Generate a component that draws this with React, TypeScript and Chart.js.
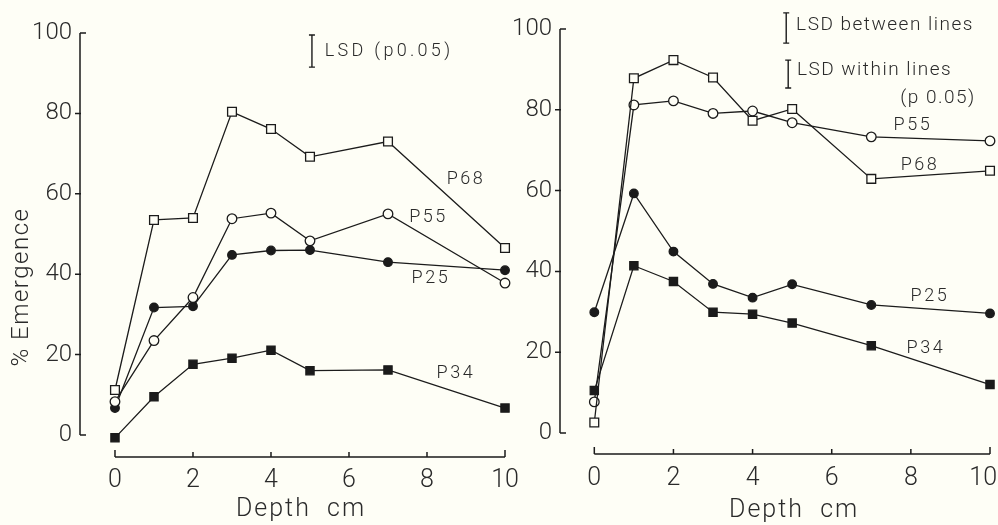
import React, { useEffect, useRef } from 'react';
import { Chart, registerables } from 'chart.js';

Chart.register(...registerables);

// ---------- data ----------
const depths = [0, 1, 2, 3, 4, 5, 7, 10];
const xTickValues = [0, 2, 4, 6, 8, 10];
const yTickValues = [0, 20, 40, 60, 80, 100];

const leftP68 = [11.2, 53.5, 54, 80.4, 76.1, 69.2, 73, 46.5];
const leftP55 = [8.3, 23.5, 34.2, 53.8, 55.2, 48.3, 55, 37.8];
const leftP25 = [6.7, 31.7, 32, 44.8, 45.9, 46, 43, 41];
const leftP34 = [-0.7, 9.5, 17.6, 19.1, 21.1, 16, 16.2, 6.7];

const rightP68 = [2.6, 87.8, 92.3, 88, 77.3, 80.2, 62.9, 64.9];
const rightP55 = [7.7, 81.2, 82.2, 79.1, 79.7, 76.8, 73.3, 72.3];
const rightP25 = [29.9, 59.3, 44.9, 36.9, 33.5, 36.8, 31.7, 29.6];
const rightP34 = [10.5, 41.4, 37.5, 29.9, 29.4, 27.2, 21.6, 12];

const seriesNames = ['P68', 'P55', 'P25', 'P34'];

// label anchors (data coordinates)
const leftLabelX = [9.0, 8.04, 8.1, 8.74];
const leftLabelY = [63.6, 54, 39, 15.2];
const rightLabelX = [8.23, 8.05, 8.48, 8.38];
const rightLabelY = [66.3, 76, 33.7, 21];

const leftLsdTexts = ['LSD (p0.05)'];
const rightLsdTexts = ['LSD between lines', 'LSD within lines', '(p 0.05)'];

const yTitle = '% Emergence';
const xTitle = 'Depth  cm';

// ---------- style ----------
const BG = '#fefef6';
const INK = '#1b1b1b';
const TEXT_INK = '#2a2a2a';
const FAMILY = 'Roboto, "DejaVu Sans", sans-serif';

type Marker = { style: 'rect' | 'circle'; filled: boolean; radius: number };
const markers: Marker[] = [
  { style: 'rect', filled: false, radius: 6.2 },
  { style: 'circle', filled: false, radius: 4.8 },
  { style: 'circle', filled: true, radius: 4.3 },
  { style: 'rect', filled: true, radius: 5.8 },
];

type Panel = {
  values: number[][];
  labelX: number[];
  labelY: number[];
  xMin: number;
  yMin: number;
  padTop: number;
  padRight: number;
  yWidth: number;
  xHeight: number;
  xTickBaseline: number;
  showYTitle: boolean;
  titleX: number;
  titleOffset: number;
  drawLsd: (ctx: CanvasRenderingContext2D, px: (v: number) => number, py: (v: number) => number) => void;
};

function drawBar(ctx: CanvasRenderingContext2D, x: number, y1: number, y2: number) {
  ctx.beginPath();
  ctx.moveTo(x, y1);
  ctx.lineTo(x, y2);
  ctx.moveTo(x - 3, y1);
  ctx.lineTo(x + 3, y1);
  ctx.moveTo(x - 3, y2);
  ctx.lineTo(x + 3, y2);
  ctx.stroke();
}

function text(
  ctx: CanvasRenderingContext2D,
  s: string,
  x: number,
  y: number,
  size: number,
  spacing: number,
  align: CanvasTextAlign,
  baseline: CanvasTextBaseline = 'middle'
) {
  ctx.font = `300 ${size}px ${FAMILY}`;
  (ctx as any).letterSpacing = `${spacing}px`;
  ctx.textAlign = align;
  ctx.textBaseline = baseline;
  ctx.fillStyle = TEXT_INK;
  ctx.fillText(s, x, y);
}

const leftPanel: Panel = {
  values: [leftP68, leftP55, leftP25, leftP34],
  labelX: leftLabelX,
  labelY: leftLabelY,
  xMin: -0.897,
  yMin: -5.47,
  padTop: 33,
  padRight: 25,
  yWidth: 80,
  xHeight: 68,
  xTickBaseline: 30,
  showYTitle: true,
  titleX: 4.77,
  titleOffset: 53,
  drawLsd: (ctx, px, py) => {
    drawBar(ctx, px(5.05), py(99.5), py(91.5));
    text(ctx, leftLsdTexts[0], px(5.38), py(95.5), 18, 3.3, 'left');
  },
};

const rightPanel: Panel = {
  values: [rightP68, rightP55, rightP25, rightP34],
  labelX: rightLabelX,
  labelY: rightLabelY,
  xMin: -0.867,
  yMin: -5.2,
  padTop: 29,
  padRight: 8,
  yWidth: 60,
  xHeight: 71,
  xTickBaseline: 31,
  showYTitle: false,
  titleX: 5.05,
  titleOffset: 57,
  drawLsd: (ctx, px, py) => {
    drawBar(ctx, px(4.85), py(104), py(96.5));
    text(ctx, rightLsdTexts[0], px(5.1), py(101), 19, 1.5, 'left');
    drawBar(ctx, px(4.9), py(92.3), py(85.4));
    text(ctx, rightLsdTexts[1], px(5.12), py(89.9), 19, 1.5, 'left');
    text(ctx, rightLsdTexts[2], px(7.73), py(82.9), 19, 1.5, 'left');
  },
};

function makeChart(canvas: HTMLCanvasElement, p: Panel) {
  const datasets = p.values.map((vals, i) => ({
    label: seriesNames[i],
    data: depths.map((d, j) => ({ x: d, y: vals[j] })),
    showLine: true,
    borderColor: INK,
    borderWidth: 1.3,
    pointStyle: markers[i].style,
    pointRadius: markers[i].radius,
    pointBorderWidth: 1.3,
    pointBorderColor: INK,
    pointBackgroundColor: markers[i].filled ? INK : BG,
    backgroundColor: markers[i].filled ? INK : BG,
    clip: false as any,
  }));

  const paper = {
    id: 'paperAxes',
    afterDraw(chart: any) {
      const ctx: CanvasRenderingContext2D = chart.ctx;
      const xs = chart.scales.x;
      const ys = chart.scales.y;
      const px = (v: number) => xs.getPixelForValue(v);
      const py = (v: number) => ys.getPixelForValue(v);
      const ca = chart.chartArea;
      const W = chart.width;
      ctx.save();
      ctx.strokeStyle = INK;
      ctx.fillStyle = INK;
      ctx.lineWidth = 1.5;
      // y axis
      const ax = ca.left;
      ctx.beginPath();
      ctx.moveTo(ax, py(0));
      ctx.lineTo(ax, py(100));
      ctx.moveTo(ax, py(0));
      ctx.lineTo(ax + 6, py(0));
      ctx.moveTo(ax, py(100));
      ctx.lineTo(ax + 6, py(100));
      yTickValues.forEach((v) => {
        if (v === 0 || v === 100) return;
        ctx.moveTo(ax - 5, py(v));
        ctx.lineTo(ax + 1, py(v));
      });
      // x axis
      const by = ca.bottom;
      ctx.moveTo(px(0), by);
      ctx.lineTo(px(10), by);
      xTickValues.forEach((v) => {
        ctx.moveTo(px(v), by);
        ctx.lineTo(px(v), by - (v === 0 || v === 10 ? 7 : 5));
      });
      ctx.stroke();

      // x tick labels, at the scale's tick pixels
      xTickValues.forEach((v) => {
        const s = String(v);
        ctx.font = `300 25px ${FAMILY}`;
        (ctx as any).letterSpacing = '0px';
        const w = ctx.measureText(s).width;
        let cx = px(v);
        if (cx + w / 2 > W - 1) cx = W - 1 - w / 2;
        text(ctx, s, cx, by + p.xTickBaseline, 25, 0, 'center', 'alphabetic');
      });

      ctx.lineWidth = 1.4;
      p.drawLsd(ctx, px, py);

      // series labels
      seriesNames.forEach((n, i) => {
        text(ctx, n, px(p.labelX[i]), py(p.labelY[i]), 18, 2.5, 'center');
      });

      // x title
      text(ctx, xTitle, px(p.titleX), by + p.titleOffset, 25, 2, 'center');

      // y title
      if (p.showYTitle) {
        ctx.save();
        ctx.translate(22, py(36.8));
        ctx.rotate(-Math.PI / 2);
        text(ctx, yTitle, 0, 0, 24, 1.5, 'center');
        ctx.restore();
      }
      ctx.restore();
    },
  };

  return new Chart(canvas, {
    type: 'scatter',
    data: { datasets: datasets as any },
    options: {
      responsive: false,
      animation: false,
      layout: { padding: { top: p.padTop, right: p.padRight, left: 0, bottom: 0 } },
      plugins: { legend: { display: false }, tooltip: { enabled: false } },
      scales: {
        x: {
          type: 'linear',
          min: p.xMin,
          max: 10,
          grid: { display: false, drawTicks: false },
          border: { display: false },
          afterBuildTicks: (s: any) => {
            s.ticks = xTickValues.map((v) => ({ value: v }));
          },
          afterFit: (s: any) => {
            s.height = p.xHeight;
            s.paddingLeft = 0;
            s.paddingRight = 0;
          },
          ticks: { display: false },
        },
        y: {
          type: 'linear',
          min: p.yMin,
          max: 100,
          grid: { display: false, drawTicks: false },
          border: { display: false },
          afterBuildTicks: (s: any) => {
            s.ticks = yTickValues.map((v) => ({ value: v }));
          },
          afterFit: (s: any) => {
            s.width = p.yWidth;
            s.paddingTop = 0;
            s.paddingBottom = 0;
          },
          ticks: {
            autoSkip: false,
            padding: 8,
            color: TEXT_INK,
            font: { family: FAMILY, size: 24, weight: 300 as any },
          },
        },
      },
    },
    plugins: [paper as any],
  });
}

export default function App() {
  const leftRef = useRef<HTMLCanvasElement>(null);
  const rightRef = useRef<HTMLCanvasElement>(null);

  useEffect(() => {
    document.body.style.margin = '0';
    document.body.style.background = BG;
    const a = makeChart(leftRef.current!, leftPanel);
    const b = makeChart(rightRef.current!, rightPanel);
    return () => {
      a.destroy();
      b.destroy();
    };
  }, []);

  return (
    <div style={{ position: 'relative', width: 998, height: 525, background: BG, overflow: 'hidden' }}>
      <canvas ref={leftRef} width={530} height={525} style={{ position: 'absolute', left: 0, top: 0, width: 530, height: 525 }} />
      <canvas ref={rightRef} width={498} height={525} style={{ position: 'absolute', left: 500, top: 0, width: 498, height: 525 }} />
    </div>
  );
}
